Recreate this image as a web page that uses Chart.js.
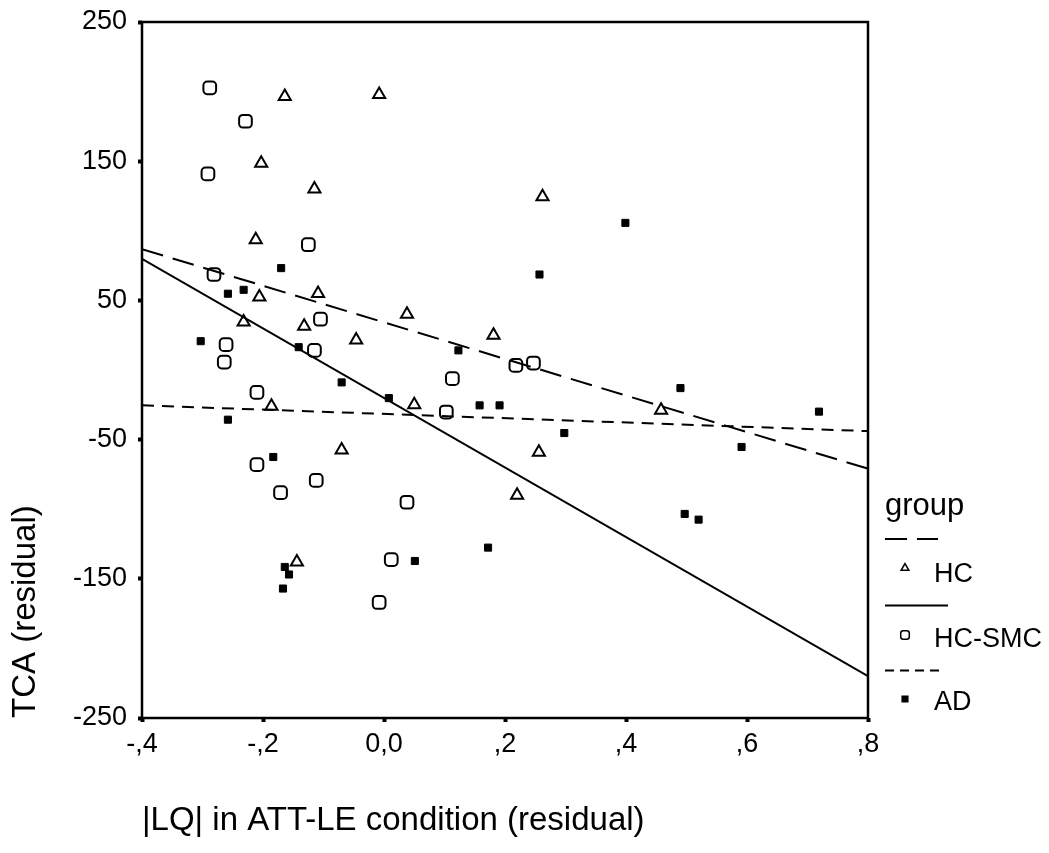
<!DOCTYPE html>
<html lang="en">
<head>
  <meta charset="UTF-8">
  <title>TCA vs |LQ| residuals</title>
  <style>
    body {
      margin: 0;
      background-color: #ffffff;
      overflow: hidden;
    }
    canvas {
      display: block;
    }
  </style>
</head>
<body>
  <canvas id="scatterChart" width="1049" height="853"></canvas>

  <script src="https://cdn.jsdelivr.net/npm/chart.js"></script>
  <script>
    // data
    const hcX = [-0.164, -0.008, -0.203, -0.115, -0.212, -0.206, -0.109, 0.038, -0.232, -0.132,
                 -0.046, 0.181, 0.262, -0.186, 0.050, -0.070, -0.144, 0.458, 0.256, 0.220];
    const hcY = [196.5, 198, 148.5, 130, 93.5, 52.5, 55, 40, 34.5, 31.5,
                 21.5, 25, 124.5, -26, -25, -57.5, -138, -29, -59, -90];

    const smcX = [-0.288, -0.229, -0.291, -0.125, -0.281, -0.105, -0.261, -0.115, -0.264, 0.113,
                  -0.210, 0.103, -0.210, -0.112, -0.171, 0.038, 0.012, -0.008, 0.218, 0.247];
    const smcY = [202.7, 178.7, 140.9, 90, 68.6, 36.5, 18.2, 14.1, 5.7, -6.2,
                  -16.1, -30.2, -68, -79.3, -88.1, -95, -136.2, -167, 3.3, 5];

    const adX = [-0.170, -0.258, -0.232, -0.303, -0.141, 0.123, 0.399, 0.257, -0.070, 0.008,
                 0.158, 0.191, -0.258, -0.183, 0.172, 0.051, -0.164, -0.157, -0.167, 0.490,
                 0.719, 0.298, 0.591, 0.497, 0.520];
    const adY = [73.2, 54.8, 57.6, 20.7, 16.4, 14.1, 105.7, 68.6, -8.9, -20.2,
                 -25.4, -25.4, -35.7, -62.5, -127.6, -137.2, -141.5, -146.9, -157, -13,
                 -29.9, -45.3, -55.3, -103.4, -107.5];

    // fit lines (end points)
    const fitX = [-0.4, 0.8];
    const fitHC = [86.8, -70.9];
    const fitSMC = [79.9, -220.0];
    const fitAD = [-25.4, -43.9];

    const xTicks = [-0.4, -0.2, 0, 0.2, 0.4, 0.6, 0.8];
    const xTickLabels = ['-,4', '-,2', '0,0', ',2', ',4', ',6', ',8'];
    const yTicks = [-250, -150, -50, 50, 150, 250];

    const groupNames = ['HC', 'HC-SMC', 'AD'];
    const legendTitle = 'group';

    const FONT = '"Liberation Sans", Arial, sans-serif';

    const toPoints = (xs, ys) => xs.map((x, i) => ({ x: x, y: ys[i] }));

    // frame round the plot area
    const framePlugin = {
      id: 'frame',
      afterDatasetsDraw(chart) {
        const { ctx, chartArea } = chart;
        ctx.save();
        ctx.strokeStyle = '#000';
        ctx.lineWidth = 2.5;
        ctx.strokeRect(chartArea.left, chartArea.top,
          chartArea.right - chartArea.left, chartArea.bottom - chartArea.top);
        ctx.restore();
      }
    };

    // SPSS style legend: line sample above each marker
    const legendPlugin = {
      id: 'spssLegend',
      afterDraw(chart) {
        const ctx = chart.ctx;
        const lx = 885;
        ctx.save();
        ctx.fillStyle = '#000';
        ctx.strokeStyle = '#000';
        ctx.textBaseline = 'alphabetic';
        ctx.font = '31px ' + FONT;
        ctx.fillText(legendTitle, lx, 515);

        const entries = [
          { lineY: 539, lineEnd: 938, dash: [22, 10], markY: 568, textY: 582, style: 'triangle', r: 4.5, fill: false },
          { lineY: 605.5, lineEnd: 948, dash: [], markY: 635, textY: 647, style: 'rectRounded', r: 5, fill: false },
          { lineY: 670.5, lineEnd: 940, dash: [9, 6], markY: 699, textY: 710, style: 'rect', r: 4, fill: true }
        ];
        entries.forEach((e, i) => {
          ctx.lineWidth = 2;
          ctx.setLineDash(e.dash);
          ctx.beginPath();
          ctx.moveTo(lx, e.lineY);
          ctx.lineTo(e.lineEnd, e.lineY);
          ctx.stroke();
          ctx.setLineDash([]);
          ctx.fillStyle = e.fill ? '#000' : '#fff';
          ctx.lineWidth = 1.5;
          Chart.helpers.drawPoint(ctx, { pointStyle: e.style, radius: e.r, rotation: 0, borderWidth: 1.5 }, 905, e.markY);
          ctx.fillStyle = '#000';
          ctx.font = '27px ' + FONT;
          ctx.fillText(groupNames[i], 934, e.textY);
        });
        ctx.restore();
      }
    };

    const tickFont = { family: FONT, size: 27 };
    const titleFont = { family: FONT, size: 33 };

    new Chart(document.getElementById('scatterChart'), {
      type: 'scatter',
      data: {
        datasets: [
          {
            type: 'line',
            label: 'HC fit',
            data: toPoints(fitX, fitHC),
            borderColor: '#000',
            borderWidth: 2,
            borderDash: [22, 10],
            pointRadius: 0,
            fill: false
          },
          {
            type: 'line',
            label: 'HC-SMC fit',
            data: toPoints(fitX, fitSMC),
            borderColor: '#000',
            borderWidth: 2,
            pointRadius: 0,
            fill: false
          },
          {
            type: 'line',
            label: 'AD fit',
            data: toPoints(fitX, fitAD),
            borderColor: '#000',
            borderWidth: 2,
            borderDash: [12, 8],
            pointRadius: 0,
            fill: false
          },
          {
            label: groupNames[0],
            data: toPoints(hcX, hcY),
            pointStyle: 'triangle',
            pointRadius: 7,
            borderWidth: 2,
            borderColor: '#000',
            backgroundColor: 'rgba(0,0,0,0)'
          },
          {
            label: groupNames[1],
            data: toPoints(smcX, smcY),
            pointStyle: 'rectRounded',
            pointRadius: 7.4,
            borderWidth: 2,
            borderColor: '#000',
            backgroundColor: 'rgba(0,0,0,0)'
          },
          {
            label: groupNames[2],
            data: toPoints(adX, adY),
            pointStyle: 'rect',
            pointRadius: 5,
            borderWidth: 1,
            borderColor: '#000',
            backgroundColor: '#000'
          }
        ]
      },
      options: {
        responsive: false,
        animation: false,
        layout: {
          padding: { top: 22, right: 181, left: 0, bottom: 0 }
        },
        plugins: {
          legend: { display: false },
          tooltip: { enabled: false }
        },
        scales: {
          x: {
            type: 'linear',
            min: -0.4,
            max: 0.8,
            afterBuildTicks: (scale) => { scale.ticks = xTicks.map(v => ({ value: v })); },
            afterFit: (scale) => { scale.height = 135; },
            ticks: {
              color: '#000',
              font: tickFont,
              padding: 6,
              maxRotation: 0,
              autoSkip: false,
              callback: (value, index) => xTickLabels[index]
            },
            grid: {
              drawOnChartArea: false,
              drawTicks: true,
              tickLength: 4,
              tickWidth: 4,
              color: '#000'
            },
            border: { display: false },
            title: {
              display: true,
              text: '|LQ| in ATT-LE condition (residual)',
              align: 'start',
              color: '#000',
              font: titleFont,
              padding: { top: 0, bottom: 12 }
            }
          },
          y: {
            type: 'linear',
            min: -250,
            max: 250,
            afterBuildTicks: (scale) => { scale.ticks = yTicks.map(v => ({ value: v })); },
            afterFit: (scale) => {
              scale.width = 142;
              scale.paddingTop = 0;
              scale.paddingBottom = 0;
            },
            ticks: {
              color: '#000',
              font: tickFont,
              padding: 11,
              autoSkip: false,
              callback: (value) => String(value)
            },
            grid: {
              drawOnChartArea: false,
              drawTicks: true,
              tickLength: 4,
              tickWidth: 4,
              color: '#000'
            },
            border: { display: false },
            title: {
              display: true,
              text: 'TCA (residual)',
              align: 'start',
              color: '#000',
              font: titleFont,
              padding: { top: 6, bottom: 0 }
            }
          }
        }
      },
      plugins: [framePlugin, legendPlugin]
    });
  </script>
</body>
</html>
